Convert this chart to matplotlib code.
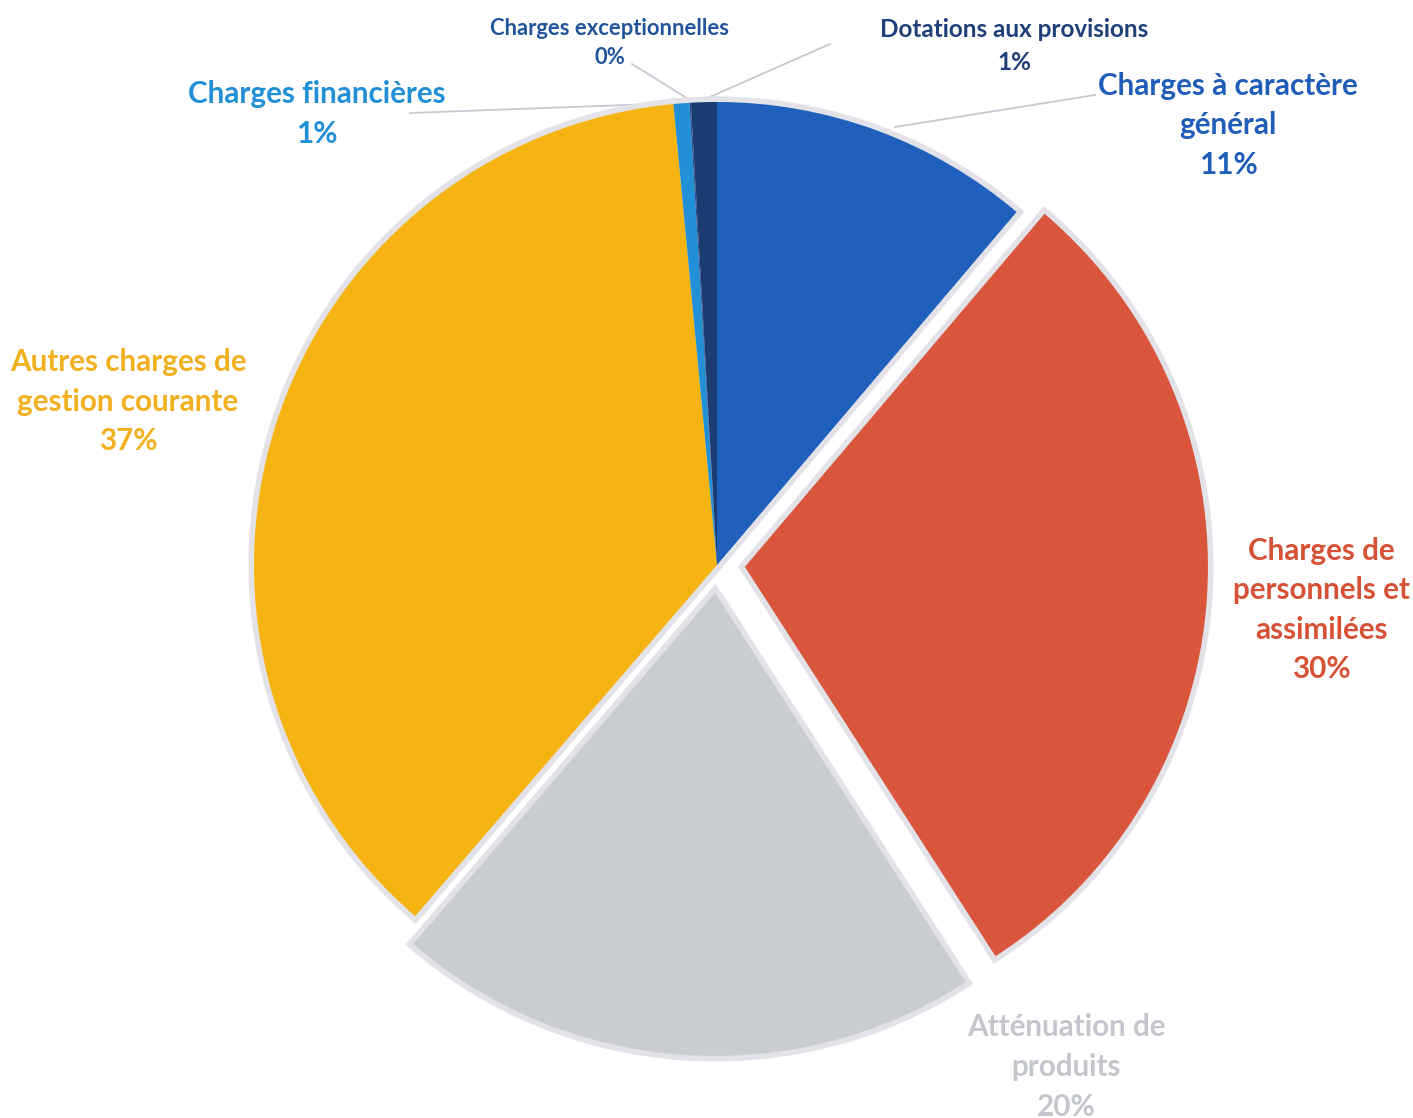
import matplotlib
matplotlib.use("Agg")
import matplotlib.pyplot as plt

# Répartition des charges de fonctionnement
categories = ["Charges à caractère\ngénéral", "Charges de\npersonnels et\nassimilées",
              "Atténuation de\nproduits", "Autres charges de\ngestion courante",
              "Charges financières", "Charges exceptionnelles", "Dotations aux provisions"]
values = [11.2, 29.7, 20.4, 37.2, 0.55, 0.05, 0.9]
shown_pct = ["11%", "30%", "20%", "37%", "1%", "0%", "1%"]

slice_colors = ["#1E60BC", "#D9553B", "#C9CCD1", "#F5B412", "#2190D6", "#2A4F8F", "#1B3C73"]
text_colors = ["#1F5DB8", "#D65237", "#C3C6CC", "#F2B01E", "#2190D6", "#22549C", "#1F3F7A"]
explode = [0, 28, 28, 0, 0, 0, 0]  # pie offsets, in pixels

# label placement (pixels), font size, leader line
label_pos = [(1228, 125), (1321, 610), (1066, 1067), (128, 402), (317, 114), (610, 43), (1014, 46)]
label_size = [21.3, 21.3, 21.3, 21.3, 21.3, 15.8, 17.5]
leaders = [
    [(1095, 95), (895, 127)],
    None,
    None,
    None,
    [(410, 113), (680, 103)],
    [(632, 64), (690, 100)],
    [(830, 44), (703, 100)],
]

W, H = 1413, 1118
fig = plt.figure(figsize=(W / 100, H / 100), dpi=100)
ax = fig.add_axes([0, 0, 1, 1])

center = (717, 565)
radius = 463

# soft grey halo behind the slices
ax.pie(values, colors=["#E2E2E8"] * len(values), startangle=-90, counterclock=True,
       explode=explode, center=center, radius=radius,
       wedgeprops=dict(edgecolor="#E2E2E8", linewidth=8))
ax.pie(values, colors=slice_colors, startangle=-90, counterclock=True,
       explode=explode, center=center, radius=radius,
       wedgeprops=dict(edgecolor="none", linewidth=0))

for pts in leaders:
    if pts is None:
        continue
    ax.plot([pts[0][0], pts[1][0]], [pts[0][1], pts[1][1]], color="#C6C8D2", lw=1.3, zorder=0)

for cat, pct, (x, y), c, s in zip(categories, shown_pct, label_pos, text_colors, label_size):
    ax.text(x, y, cat + "\n" + pct, ha="center", va="center", color=c, fontsize=s,
            fontweight="bold", family=["Lato", "DejaVu Sans"], linespacing=1.5)

ax.set_xlim(0, W)
ax.set_ylim(H, 0)
ax.set_aspect("equal")
ax.axis("off")

fig.savefig("out.png", dpi=100, facecolor="white")
